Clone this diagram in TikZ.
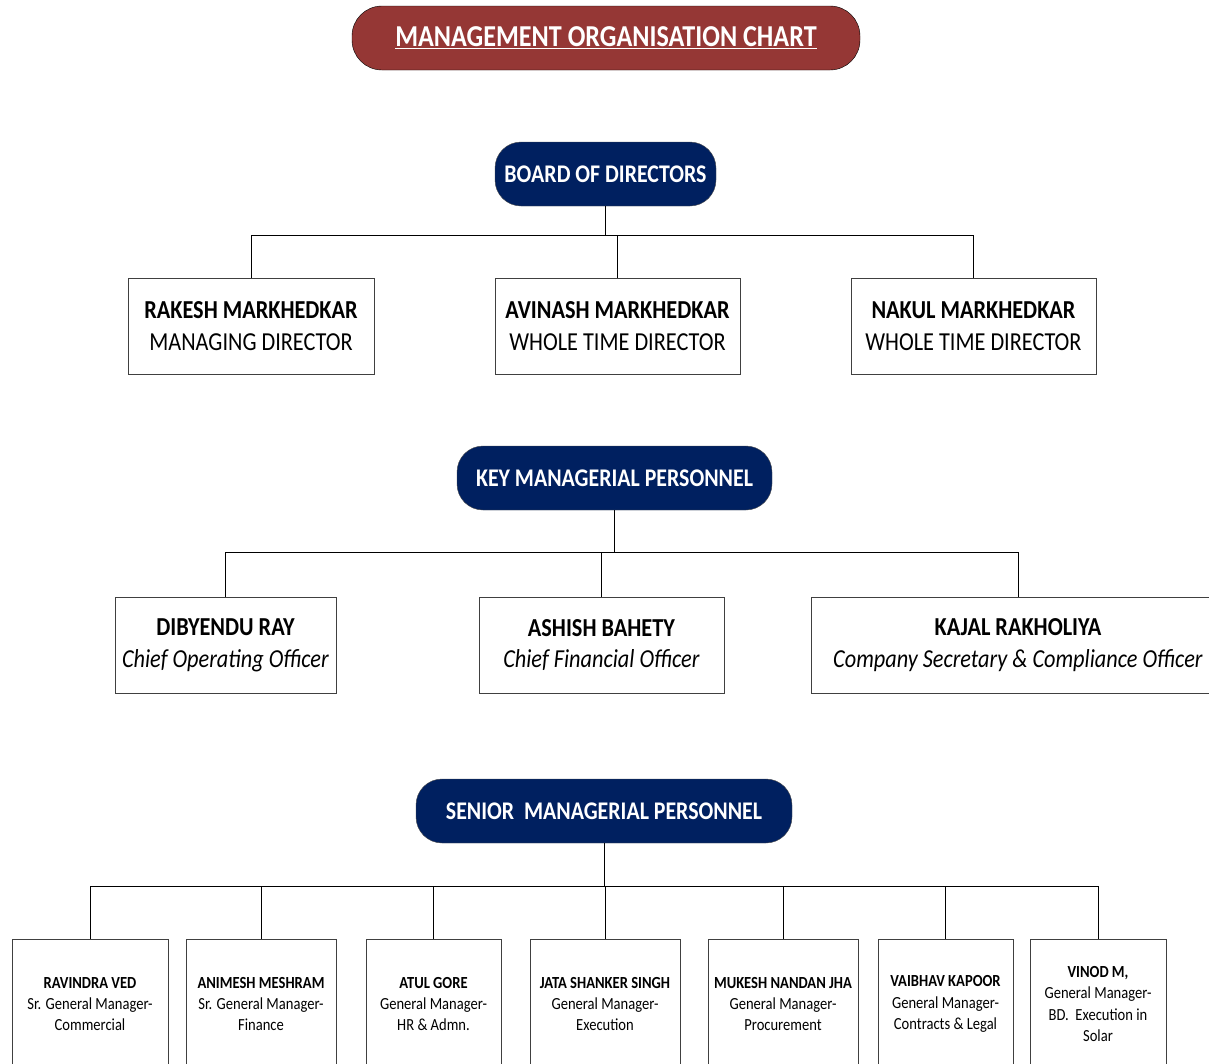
\documentclass[tikz,border=0pt]{standalone}
\usepackage{fontspec}
\setmainfont{Carlito}[FakeStretch=0.86]
\definecolor{titlered}{HTML}{953735}
\definecolor{headblue}{HTML}{002060}
\begin{document}
\begin{tikzpicture}[
    x=1bp, y=-1bp,
    every node/.append style={font=\rmfamily, inner sep=0pt},
    charttitle/.style={draw=black, thin, rounded corners=30bp, fill=titlered, text=white, minimum width=508bp, minimum height=64bp, font=\bfseries\fontsize{30.5}{36}\selectfont},
    head/.style={draw=black!70, rounded corners=26bp, fill=headblue, text=white, minimum height=64bp, font=\bfseries\fontsize{25.5}{30}\selectfont},
    director/.style={draw=black!75, minimum width=246bp, minimum height=96bp, align=center, font=\fontsize{26}{32}\selectfont},
    staff/.style={draw=black!75, minimum height=130bp, align=center, font=\fontsize{17}{21.5}\selectfont},
    link/.style={draw, line width=1bp},
]
\useasboundingbox (0,0) rectangle (1209,1064);
\clip (0,0) rectangle (1209,1064);

\node[charttitle] (title) at (606,38) {\underline{MANAGEMENT ORGANISATION CHART}};

% board
\node[head, minimum width=221bp] (bod) at (605.5,174) {BOARD OF DIRECTORS};
\node[director] (rakesh) at (251,326) {\textbf{RAKESH MARKHEDKAR}\\MANAGING DIRECTOR};
\node[director, minimum width=245bp] (avinash) at (617.5,326) {\textbf{AVINASH MARKHEDKAR}\\WHOLE TIME DIRECTOR};
\node[director, minimum width=245bp] (nakul) at (973.5,326) {\textbf{NAKUL MARKHEDKAR}\\WHOLE TIME DIRECTOR};

\coordinate (bus1) at (605.5,235);
\draw[link] (bod.south) -- (bus1);
\draw[link] (rakesh.north) |- (nakul.north |- bus1) -- (nakul.north);
\draw[link] (avinash.north) -- (avinash.north |- bus1);

% key managerial personnel
\node[head, minimum width=315bp] (kmp) at (614.5,478) {KEY MANAGERIAL PERSONNEL};
\node[director, minimum width=221bp] (dibyendu) at (225.5,645) {\textbf{DIBYENDU RAY}\\\textit{Chief Operating Officer}};
\node[director, minimum width=245bp] (ashish) at (601.5,645) {\textbf{ASHISH BAHETY}\\\textit{Chief Financial Officer}};
\node[director, minimum width=414bp] (kajal) at (1018,645) {\textbf{KAJAL RAKHOLIYA}\\\textit{Company Secretary \& Compliance Officer}};

\coordinate (bus2) at (614.5,552);
\draw[link] (kmp.south) -- (bus2);
\draw[link] (dibyendu.north) |- (kajal.north |- bus2) -- (kajal.north);
\draw[link] (ashish.north) -- (ashish.north |- bus2);

% senior managerial personnel
\node[head, minimum width=376bp] (smp) at (604,811) {SENIOR\ \ MANAGERIAL PERSONNEL};
\node[staff, minimum width=156bp] (ravindra) at (90,1004) {\textbf{RAVINDRA VED}\\Sr. General Manager-\\Commercial};
\node[staff, minimum width=150bp] (animesh) at (261,1004) {\textbf{ANIMESH MESHRAM}\\Sr. General Manager-\\Finance};
\node[staff, minimum width=135bp] (atul) at (433.5,1004) {\textbf{ATUL GORE}\\General Manager-\\HR \& Admn.};
\node[staff, minimum width=150bp] (jata) at (605,1004) {\textbf{JATA SHANKER SINGH}\\General Manager-\\Execution};
\node[staff, minimum width=150bp] (mukesh) at (783,1004) {\textbf{MUKESH NANDAN JHA}\\General Manager-\\Procurement};
\node[staff, minimum width=135bp] (vaibhav) at (945.5,1004) {\textbf{VAIBHAV KAPOOR}\\General Manager-\\Contracts \& Legal};
\node[staff, minimum width=136bp] (vinod) at (1098,1004) {\textbf{VINOD M,}\\General Manager-\\BD.\ \ Execution in\\Solar};

\coordinate (bus3) at (604,886);
\draw[link] (smp.south) -- (bus3);
\draw[link] (ravindra.north) |- (vinod.north |- bus3) -- (vinod.north);
\foreach \n in {animesh,atul,jata,mukesh,vaibhav}
    \draw[link] (\n.north) -- (\n.north |- bus3);

\end{tikzpicture}
\end{document}
